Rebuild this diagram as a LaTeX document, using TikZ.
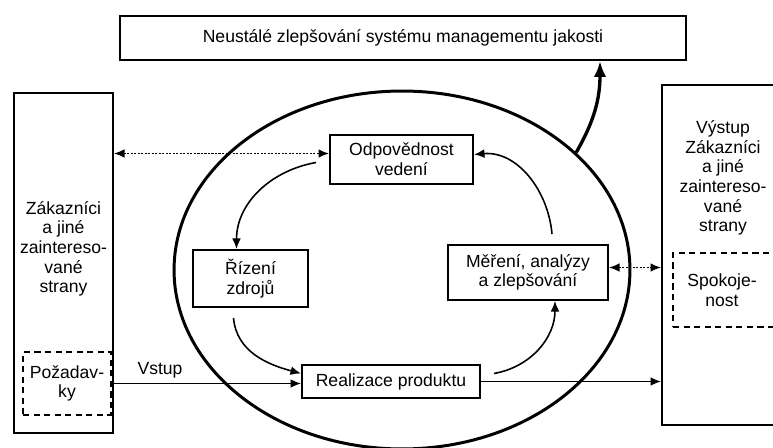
\documentclass[tikz,border=0pt]{standalone}
\usepackage{fontspec}
\setmainfont{Liberation Sans}
\usetikzlibrary{arrows.meta, calc, shapes.geometric}

\begin{document}
\begin{tikzpicture}[
  x=0.02cm, y=-0.02cm,
  every node/.style={font=\fontsize{10}{11.2}\selectfont},
  box/.style={draw, line width=1.1pt, align=center, inner sep=0pt},
  dbox/.style={draw, line width=1.2pt, dash pattern=on 3.5pt off 2.5pt,
               align=center, inner sep=0pt},
  txt/.style={align=center, inner sep=0pt},
  arr/.style={-{Latex[length=6pt,width=5pt]}, line width=0.9pt},
  dotarr/.style={{Latex[length=6pt,width=5pt]}-{Latex[length=6pt,width=5pt]},
                 line width=1pt, dash pattern=on 1.2pt off 0.8pt},
  bigarr/.style={-{Latex[length=9pt,width=7pt]}, line width=1.9pt}
]
  \useasboundingbox (0,0) rectangle (773,448);
  \clip (0,0) rectangle (773,448);

  %% Nodes
  \node[box, minimum width=11.32cm, minimum height=0.88cm] (neustale) at (403,38)
    {Neustálé zlepšování systému managementu jakosti};
  \node[ellipse, draw, line width=1.7pt, minimum width=9.12cm,
        minimum height=7.16cm, inner sep=0pt]                (kruh)       at (402,270) {};
  \node[box, minimum width=1.98cm, minimum height=6.8cm]    (zakaznici)  at (63.5,263) {};
  \node[txt]                                                 (zaktext)    at (63.5,249)
    {Zákazníci\\a jiné\\zaintereso-\\vané\\strany};
  \node[dbox, minimum width=1.76cm, minimum height=1.26cm]  (pozadavky)  at (67,383.5) {Požadav-\\ky};
  \node[box, minimum width=2.76cm, minimum height=6.8cm]    (vystup)     at (731,255) {};
  \node[txt]                                                 (vystext)    at (723,178)
    {Výstup\\Zákazníci\\a jiné\\zaintereso-\\vané\\strany};
  \node[dbox, minimum width=2.54cm, minimum height=1.48cm]  (spokojenost) at (736.5,290) {};
  \node[txt]                                                 (spoktext)   at (722,290) {Spokoje-\\nost};

  \node[box, minimum width=2.86cm, minimum height=0.98cm]   (odpov)      at (401.5,159.5) {Odpovědnost\\vedení};
  \node[box, minimum width=2.3cm, minimum height=1.14cm]    (rizeni)     at (250.5,278.5) {Řízení\\zdrojů};
  \node[box, minimum width=3.2cm, minimum height=1.1cm]     (mereni)     at (528,272.5) {Měření, analýzy\\a zlepšování};
  \node[box, minimum width=3.56cm, minimum height=0.66cm]   (realizace)  at (391,381.5) {Realizace produktu};
  \node[txt]                                                 (vstup)      at (160,370) {Vstup};

  %% Start points of the loop arrows
  \coordinate (odpovout) at ($(odpov.west)+(-13,3)$);
  \coordinate (rizout)   at ($(rizeni.south)+(-17,10)$);
  \coordinate (realout)  at ($(realizace.east)+(13,-8)$);
  \coordinate (merout)   at ($(mereni.north)+(24,-10)$);
  \coordinate (dotl)     at ($(odpov.west)+(0,-6)$);
  \coordinate (dotr)     at ($(mereni.east)+(0,-5)$);

  %% Arrows
  \draw[dotarr] (zakaznici.east |- dotl) -- (dotl);
  \draw[dotarr] (dotr) -- (dotr -| vystup.west);
  \draw[arr] (pozadavky.east) -- (pozadavky.east -| realizace.west);
  \draw[arr] (realizace.east) -- (realizace.east -| vystup.west);
  \draw[arr] (odpovout) to[out=190, in=90] ($(rizeni.north)+(-14,0)$);
  \draw[arr] (rizout) to[out=-85, in=165] ($(realizace.west)+(0,-8)$);
  \draw[arr] (realout) to[out=10, in=-90] ($(mereni.south)+(27,0)$);
  \draw[arr] (merout) to[out=95, in=5] ($(odpov.east)+(0,-5)$);
  \draw[bigarr] (kruh.34) to[out=60, in=-90] ($(neustale.south)+(197,0)$);
\end{tikzpicture}
\end{document}
